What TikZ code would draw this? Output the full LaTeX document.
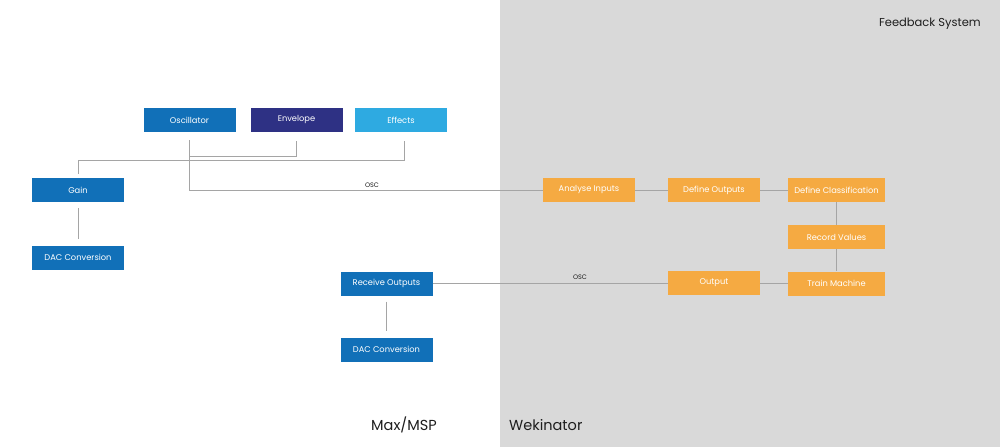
\documentclass[tikz,border=0pt]{standalone}
\usepackage{fontspec}
\setmainfont{Poppins}
\definecolor{bgray}{RGB}{217,217,217}
\definecolor{cblue}{RGB}{17,112,184}
\definecolor{cnavy}{RGB}{46,49,132}
\definecolor{clight}{RGB}{46,170,225}
\definecolor{corange}{RGB}{245,170,66}
\definecolor{cline}{RGB}{165,165,165}
\definecolor{ctext}{RGB}{30,30,30}
\begin{document}
\begin{tikzpicture}[x=1pt,y=-1pt,
  box/.style={rectangle, inner sep=0pt, minimum height=24pt, minimum width=92pt, text=white, font=\fontsize{8.3}{10}\selectfont},
  bluebox/.style={box, fill=cblue},
  navybox/.style={box, fill=cnavy},
  lightbox/.style={box, fill=clight},
  orbox/.style={box, fill=corange},
  conn/.style={draw=cline, line width=0.9pt},
  osclabel/.style={font=\fontsize{6.5}{7}\selectfont, text=ctext, inner sep=0pt},
  region/.style={font=\fontsize{14.5}{16}\selectfont, text=ctext, inner sep=0pt}
]
\useasboundingbox (0,0) rectangle (1000,447);
\fill[white] (0,0) rectangle (500,447);
\fill[bgray] (500,0) rectangle (1000,447);

% Max/MSP side
\node[bluebox] (osc) at (189.5,120) {Oscillator};
\node[navybox] (env) at (296.5,120) {Envelope};
\node[lightbox] (eff) at (401,120) {Effects};
\node[bluebox] (gain) at (78,190) {Gain};
\node[bluebox] (dac1) at (78,257.5) {DAC Conversion};
\node[bluebox] (recv) at (386.5,283.5) {Receive Outputs};
\node[bluebox] (dac2) at (386.5,349.5) {DAC Conversion};

% Wekinator side
\node[orbox] (ana) at (589,190) {Analyse Inputs};
\node[orbox] (defout) at (714,190) {Define Outputs};
\node[orbox, minimum width=97pt] (defcls) at (836.5,190) {Define Classification};
\node[orbox, minimum width=97pt] (rec) at (836.5,237) {Record Values};
\node[orbox, minimum width=97pt] (train) at (836.5,283.5) {Train Machine};
\node[orbox] (out) at (714,283) {Output};

% junctions
\coordinate (j1) at (190,156);
\coordinate (j2) at (78,160);

% connectors
\draw[conn] ([yshift=-8pt]osc.south) |- (ana.west);
\draw[conn] ([yshift=-9pt]env.south) |- (j1);
\draw[conn] ([xshift=3pt,yshift=-9pt]eff.south) |- (j2) -- ([yshift=4pt]gain.north);
\draw[conn] ([yshift=-6pt]gain.south) -- ([yshift=6pt]dac1.north);
\draw[conn] ([yshift=-6pt]recv.south) -- ([yshift=6pt]dac2.north);
\draw[conn] (recv.east) -- (out.west |- recv.east);
\draw[conn] (ana.east) -- (defout.west);
\draw[conn] (defout.east) -- (defcls.west);
\draw[conn] (defcls.south) -- (rec.north);
\draw[conn] (rec.south) -- (train.north);
\draw[conn] (out.east) -- (train.west |- out.east);

% OSC labels
\node[osclabel] (osc1) at (372,185) {OSC};
\node[osclabel] (osc2) at (580,277.5) {OSC};

% region titles
\node[region] (maxmsp) at (404,425) {Max/MSP};
\node[region, anchor=west] (weki) at (509,425) {Wekinator};
\node[region, font=\fontsize{11.5}{13}\selectfont, anchor=east] (fb) at (981,24) {Feedback System};
\end{tikzpicture}
\end{document}
